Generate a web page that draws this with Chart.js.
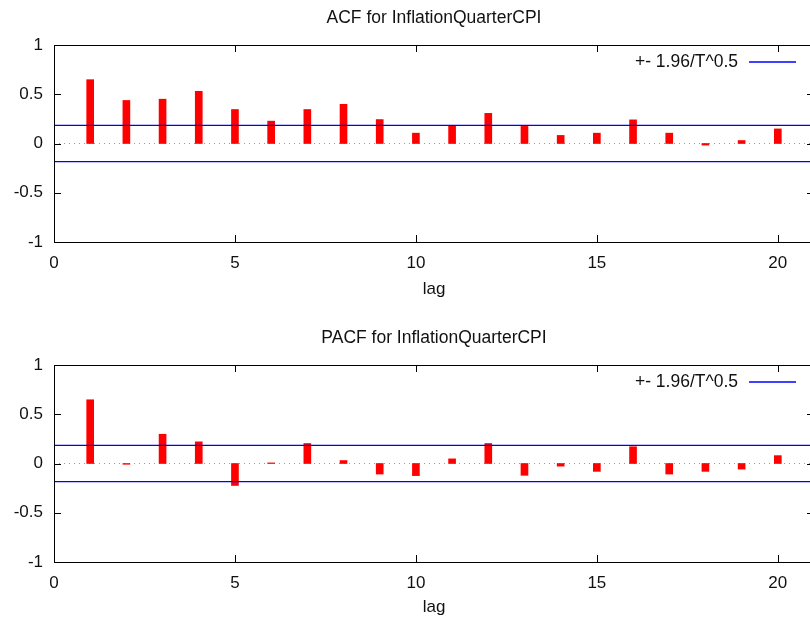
<!DOCTYPE html>
<html>
<head>
<meta charset="utf-8">
<title>ACF / PACF for InflationQuarterCPI</title>
<script src="https://cdn.jsdelivr.net/npm/chart.js@4.4.1/dist/chart.umd.min.js"></script>
<style>
  html, body { margin: 0; padding: 0; background: #fff; overflow: hidden; }
  .panel { position: absolute; left: 0; }
  #acfBox { top: 0; }
  #pacfBox { top: 320px; }
</style>
</head>
<body>
<div class="panel" id="acfBox"><canvas id="acfChart" width="814" height="300"></canvas></div>
<div class="panel" id="pacfBox"><canvas id="pacfChart" width="814" height="298"></canvas></div>
<script>
// --- DATA ---
const lags = [1, 2, 3, 4, 5, 6, 7, 8, 9, 10, 11, 12, 13, 14, 15, 16, 17, 18, 19, 20];
const acfValues = [0.648, 0.437, 0.45, 0.53, 0.345, 0.227, 0.345, 0.398, 0.243, 0.105,
                   0.184, 0.306, 0.174, 0.082, 0.105, 0.24, 0.105, -0.016, 0.03, 0.148];
const pacfValues = [0.647, -0.008, 0.297, 0.22, -0.223, 0.006, 0.203, 0.03, -0.107, -0.123,
                    0.047, 0.203, -0.12, -0.027, -0.08, 0.17, -0.107, -0.08, -0.057, 0.08];
const confBand = 0.185;          // +- 1.96/T^0.5
const xRange = [0, 21];
const xTicks = [0, 5, 10, 15, 20];
const yTicks = [-1, -0.5, 0, 0.5, 1];
const legendLabel = '+- 1.96/T^0.5';

Chart.defaults.font.family = "'Liberation Sans', Arial, sans-serif";
Chart.defaults.font.size = 17;
Chart.defaults.color = '#111';

// gnuplot style frame with inward ticks on all four sides
const framePlugin = {
    id: 'frame',
    afterDatasetsDraw(chart) {
        const { ctx, chartArea: a, scales } = chart;
        const tick = 7;
        ctx.save();
        ctx.strokeStyle = '#000';
        ctx.lineWidth = 1;
        ctx.strokeRect(a.left + 0.5, a.top + 0.5, a.right - a.left - 1, a.bottom - a.top);
        ctx.beginPath();
        xTicks.forEach(v => {
            const px = Math.round(scales.x.getPixelForValue(v)) + 0.5;
            ctx.moveTo(px, a.bottom); ctx.lineTo(px, a.bottom - tick);
            ctx.moveTo(px, a.top); ctx.lineTo(px, a.top + tick);
        });
        yTicks.forEach(v => {
            const py = Math.round(scales.y.getPixelForValue(v)) + 0.5;
            ctx.moveTo(a.left, py); ctx.lineTo(a.left + tick, py);
            ctx.moveTo(a.right, py); ctx.lineTo(a.right - tick, py);
        });
        ctx.stroke();

        // key, text first then line sample
        const ly = a.top + 17;
        ctx.fillStyle = '#111';
        ctx.font = "17.5px 'Liberation Sans', Arial, sans-serif";
        ctx.textAlign = 'right';
        ctx.textBaseline = 'middle';
        ctx.fillText(legendLabel, a.right - 76, ly);
        ctx.strokeStyle = '#0000ff';
        ctx.lineWidth = 1.3;
        ctx.beginPath();
        ctx.moveTo(a.right - 65, ly);
        ctx.lineTo(a.right - 18, ly);
        ctx.stroke();
        ctx.restore();
    }
};

function makeCorrChart(canvasId, title, values, axisHeight) {
    const ctx = document.getElementById(canvasId).getContext('2d');
    return new Chart(ctx, {
        type: 'bar',
        data: {
            datasets: [
                {
                    type: 'line',
                    data: [{ x: xRange[0], y: confBand }, { x: xRange[1], y: confBand }],
                    borderColor: '#0000ff', borderWidth: 1.3, pointRadius: 0, order: 0
                },
                {
                    type: 'line',
                    data: [{ x: xRange[0], y: -confBand }, { x: xRange[1], y: -confBand }],
                    borderColor: '#0000ff', borderWidth: 1.3, pointRadius: 0, order: 0
                },
                {
                    data: lags.map((l, i) => ({ x: l, y: values[i] })),
                    backgroundColor: '#ff0000',
                    barThickness: 7,
                    order: 1
                },
                {
                    type: 'line',
                    data: [{ x: xRange[0], y: 0 }, { x: xRange[1], y: 0 }],
                    borderColor: '#999', borderWidth: 1, borderDash: [1, 4],
                    pointRadius: 0, order: 2
                }
            ]
        },
        options: {
            responsive: false,
            animation: false,
            layout: { padding: 0 },
            plugins: {
                legend: { display: false },
                tooltip: { enabled: false },
                title: {
                    display: true,
                    fullSize: false,
                    text: title,
                    color: '#111',
                    font: { size: 17.5, weight: 'normal' },
                    padding: { top: 8, bottom: 16 }
                }
            },
            scales: {
                x: {
                    type: 'linear',
                    min: xRange[0], max: xRange[1],
                    offset: false,
                    grid: { display: false, drawTicks: false },
                    border: { display: false },
                    afterBuildTicks: s => { s.ticks = xTicks.map(v => ({ value: v })); },
                    afterFit: s => { s.height = axisHeight; },
                    ticks: { padding: 11, maxRotation: 0, callback: v => String(v) },
                    title: { display: true, text: 'lag', padding: 0, font: { size: 17 } }
                },
                y: {
                    min: -1, max: 1,
                    grid: { display: false, drawTicks: false },
                    border: { display: false },
                    afterBuildTicks: s => { s.ticks = yTicks.map(v => ({ value: v })); },
                    afterFit: s => { s.width = 54; },
                    ticks: { padding: 11, callback: v => String(v) }
                }
            }
        },
        plugins: [framePlugin]
    });
}

makeCorrChart('acfChart', 'ACF for InflationQuarterCPI', acfValues, 58);
makeCorrChart('pacfChart', 'PACF for InflationQuarterCPI', pacfValues, 56);
</script>
</body>
</html>
